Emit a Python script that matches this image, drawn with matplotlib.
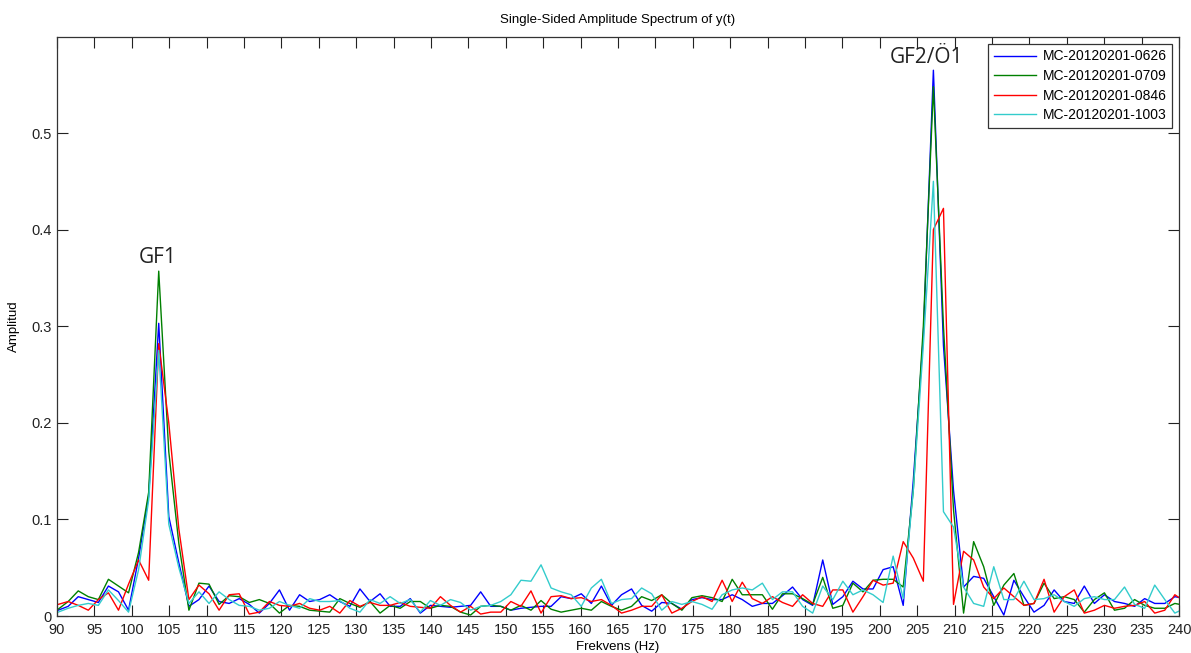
import numpy as np
import matplotlib
matplotlib.use("Agg")
import matplotlib.pyplot as plt

plt.rcParams['font.family'] = ['Liberation Sans', 'DejaVu Sans']

# frequency bins of the FFT (Hz)
f_start = 88.805
df = 1.345
n_bins = 114

labels = ['MC-20120201-0626', 'MC-20120201-0709', 'MC-20120201-0846', 'MC-20120201-1003']
colors = ['#0000ff', '#008000', '#ff0000', '#33cccc']

amp_0626 = [
    0.005, 0.006, 0.010, 0.020, 0.017, 0.014, 0.031, 0.025, 0.006, 0.060,
    0.124, 0.303, 0.103, 0.055, 0.010, 0.017, 0.031, 0.015, 0.013, 0.018,
    0.012, 0.003, 0.013, 0.027, 0.006, 0.022, 0.015, 0.017, 0.022, 0.015,
    0.010, 0.028, 0.015, 0.023, 0.010, 0.010, 0.018, 0.003, 0.011, 0.010,
    0.009, 0.010, 0.011, 0.025, 0.010, 0.010, 0.006, 0.008, 0.009, 0.010,
    0.010, 0.020, 0.018, 0.023, 0.013, 0.031, 0.011, 0.022, 0.028, 0.011,
    0.005, 0.014, 0.013, 0.007, 0.017, 0.019, 0.017, 0.017, 0.022, 0.017,
    0.010, 0.013, 0.013, 0.021, 0.030, 0.017, 0.011, 0.058, 0.012, 0.020,
    0.036, 0.028, 0.028, 0.048, 0.051, 0.011, 0.140, 0.290, 0.565, 0.280,
    0.130, 0.030, 0.041, 0.039, 0.020, 0.001, 0.037, 0.020, 0.004, 0.011,
    0.027, 0.015, 0.013, 0.031, 0.013, 0.022, 0.015, 0.013, 0.010, 0.018,
    0.013, 0.013, 0.020, 0.018,
]
amp_0709 = [
    0.005, 0.007, 0.015, 0.026, 0.020, 0.017, 0.038, 0.031, 0.024, 0.066,
    0.128, 0.357, 0.170, 0.075, 0.006, 0.034, 0.033, 0.012, 0.021, 0.020,
    0.014, 0.017, 0.013, 0.003, 0.011, 0.010, 0.006, 0.005, 0.004, 0.018,
    0.013, 0.009, 0.015, 0.003, 0.011, 0.008, 0.015, 0.015, 0.008, 0.011,
    0.010, 0.004, 0.001, 0.010, 0.011, 0.010, 0.006, 0.011, 0.006, 0.016,
    0.007, 0.004, 0.006, 0.008, 0.006, 0.015, 0.010, 0.006, 0.010, 0.020,
    0.016, 0.022, 0.013, 0.006, 0.019, 0.021, 0.019, 0.015, 0.038, 0.022,
    0.022, 0.022, 0.007, 0.023, 0.023, 0.018, 0.012, 0.040, 0.008, 0.011,
    0.034, 0.025, 0.037, 0.038, 0.038, 0.030, 0.130, 0.300, 0.548, 0.300,
    0.110, 0.003, 0.077, 0.051, 0.011, 0.032, 0.044, 0.011, 0.013, 0.034,
    0.018, 0.020, 0.017, 0.004, 0.017, 0.024, 0.006, 0.008, 0.017, 0.011,
    0.008, 0.008, 0.013, 0.011,
]
amp_0846 = [
    0.010, 0.012, 0.015, 0.011, 0.006, 0.017, 0.024, 0.006, 0.033, 0.058,
    0.037, 0.282, 0.200, 0.090, 0.017, 0.032, 0.023, 0.006, 0.022, 0.023,
    0.002, 0.004, 0.015, 0.011, 0.010, 0.013, 0.008, 0.006, 0.010, 0.003,
    0.016, 0.010, 0.014, 0.011, 0.011, 0.014, 0.010, 0.009, 0.008, 0.020,
    0.011, 0.004, 0.010, 0.002, 0.004, 0.004, 0.015, 0.010, 0.026, 0.003,
    0.020, 0.021, 0.018, 0.019, 0.015, 0.017, 0.011, 0.003, 0.006, 0.010,
    0.010, 0.022, 0.003, 0.008, 0.015, 0.020, 0.015, 0.037, 0.015, 0.035,
    0.018, 0.013, 0.020, 0.014, 0.010, 0.022, 0.013, 0.010, 0.027, 0.027,
    0.004, 0.020, 0.037, 0.032, 0.034, 0.077, 0.060, 0.036, 0.400, 0.422,
    0.012, 0.067, 0.058, 0.030, 0.018, 0.029, 0.020, 0.011, 0.013, 0.038,
    0.004, 0.020, 0.027, 0.003, 0.006, 0.011, 0.008, 0.010, 0.011, 0.015,
    0.003, 0.006, 0.022, 0.015,
]
amp_1003 = [
    0.003, 0.004, 0.008, 0.011, 0.013, 0.011, 0.027, 0.016, 0.004, 0.048,
    0.120, 0.275, 0.095, 0.050, 0.013, 0.025, 0.013, 0.025, 0.017, 0.011,
    0.010, 0.006, 0.008, 0.015, 0.011, 0.008, 0.018, 0.015, 0.015, 0.016,
    0.008, 0.004, 0.017, 0.013, 0.020, 0.013, 0.017, 0.004, 0.016, 0.011,
    0.017, 0.014, 0.006, 0.010, 0.011, 0.015, 0.022, 0.037, 0.036, 0.053,
    0.029, 0.025, 0.022, 0.010, 0.029, 0.038, 0.013, 0.017, 0.018, 0.029,
    0.023, 0.006, 0.015, 0.012, 0.015, 0.012, 0.007, 0.022, 0.027, 0.029,
    0.027, 0.034, 0.017, 0.025, 0.025, 0.010, 0.003, 0.031, 0.017, 0.036,
    0.022, 0.027, 0.022, 0.014, 0.062, 0.018, 0.130, 0.280, 0.450, 0.108,
    0.092, 0.030, 0.013, 0.010, 0.051, 0.017, 0.017, 0.036, 0.017, 0.018,
    0.022, 0.015, 0.010, 0.018, 0.020, 0.017, 0.017, 0.030, 0.012, 0.008,
    0.032, 0.017, 0.003, 0.008,
]

freq = f_start + df * np.arange(n_bins)
series = [amp_0626, amp_0709, amp_0846, amp_1003]

fig = plt.figure(figsize=(11.91, 6.53), dpi=100)
ax = fig.add_axes([57 / 1191, 37 / 653, 1122 / 1191, 579 / 653])

for amp, lab, col in zip(series, labels, colors):
    ax.plot(freq, amp, color=col, lw=1.0, label=lab)

ax.set_xlim(90, 240)
ax.set_ylim(0, 0.5994)
ax.set_xticks(np.arange(90, 241, 5))
ax.set_yticks([0, 0.1, 0.2, 0.3, 0.4, 0.5])
ax.set_yticklabels(['0', '0.1', '0.2', '0.3', '0.4', '0.5'])

ax.tick_params(direction='in', length=8, width=0.8, top=True, right=True,
               labelsize=10.5, colors='#222222')
ax.tick_params(axis='x', pad=5)
ax.tick_params(axis='y', pad=4)
for sp in ax.spines.values():
    sp.set_color('#333333')
    sp.set_linewidth(0.9)

ax.set_title('Single-Sided Amplitude Spectrum of y(t)', fontsize=9.5, pad=10)
ax.set_xlabel('Frekvens (Hz)', fontsize=9.5, labelpad=3)
ax.set_ylabel('Amplitud', fontsize=9.5, labelpad=8)

# peak names
ax.text(103.4, 0.371, 'GF1', family=['Open Sans', 'DejaVu Sans'], fontsize=15,
        color='#222222', ha='center', va='center')
ax.text(206.3, 0.578, 'GF2/Ö1', family=['Open Sans', 'DejaVu Sans'], fontsize=15,
        color='#222222', ha='center', va='center')

leg = ax.legend(loc='upper right', fontsize=10, fancybox=False, framealpha=1,
                edgecolor='#333333', borderaxespad=0.5, handlelength=3.0,
                handletextpad=0.5, labelspacing=0.4, borderpad=0.4)
leg.get_frame().set_linewidth(0.9)

fig.savefig('out.png', dpi=100)
